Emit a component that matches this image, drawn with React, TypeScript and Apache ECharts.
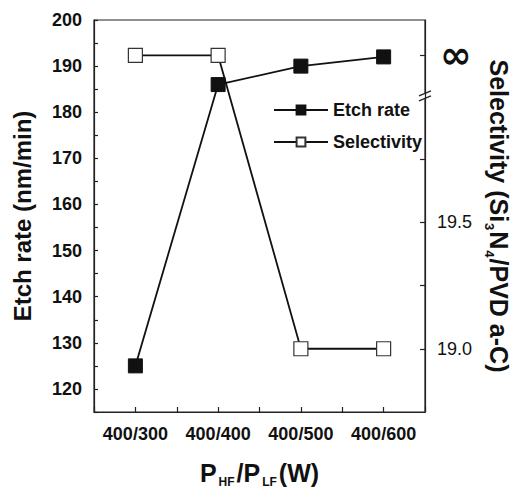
import React, { useEffect, useRef } from "react";
import * as echarts from "echarts";

const categories = ["400/300", "400/400", "400/500", "400/600"];
const etchRate = [125, 186, 190, 192];
// "∞" stands for infinite selectivity
const selectivity: (number | string)[] = ["∞", "∞", 19.0, 19.0];
const INF_POS = 20.16; // where the ∞ level sits on the right axis
const BREAK_AT = 20.0;
const leftTickLabels = [120, 130, 140, 150, 160, 170, 180, 190, 200];
const rightTickLabels = [19.0, 19.5];
const rightMinorTicks = [19.25, 19.75];

const FONT = "Liberation Sans, Arial, sans-serif";

export default function App() {
  const ref = useRef<HTMLDivElement>(null);
  useEffect(() => {
    if (!ref.current) return;
    const chart = echarts.init(ref.current, undefined, { renderer: "svg" });
    const selPlot = selectivity.map((v, i) => [i + 1, v === "∞" ? INF_POS : (v as number)]);
    const etchPlot = etchRate.map((v, i) => [i + 1, v]);
    const option: any = {
      animation: false,
      backgroundColor: "#fff",
      textStyle: { fontFamily: FONT, color: "#111" },
      grid: { left: 94, right: 82, top: 20, bottom: 69, show: true, borderColor: "#222", borderWidth: 1.2, backgroundColor: "transparent" },
      legend: {
        orient: "vertical",
        left: 268,
        top: 96,
        itemWidth: 54,
        itemHeight: 11,
        itemGap: 14,
        textStyle: { fontFamily: FONT, fontSize: 18, fontWeight: "bold", color: "#111" },
        data: ["Etch rate", "Selectivity"],
      },
      xAxis: {
        type: "value",
        min: 0.5,
        max: 4.5,
        interval: 0.5,
        splitLine: { show: false },
        axisLine: { lineStyle: { color: "#222", width: 1.2 } },
        axisTick: { inside: true, length: 5, lineStyle: { color: "#222", width: 1.2 } },
        axisLabel: {
          margin: 13,
          fontFamily: FONT,
          fontSize: 18,
          fontWeight: "bold",
          color: "#111",
          showMinLabel: true,
          showMaxLabel: true,
          formatter: (v: number) => (Number.isInteger(v) && v >= 1 && v <= categories.length ? categories[v - 1] : ""),
        },
        name: "P{sub|HF}/P{sub|LF}(W)",
        nameLocation: "middle",
        nameGap: 46,
        nameTextStyle: {
          fontFamily: FONT,
          fontSize: 25,
          fontWeight: "bold",
          color: "#111",
          rich: {
            sub: { fontFamily: FONT, fontSize: 12, fontWeight: "bold", color: "#111", verticalAlign: "bottom", padding: [18, 2, 0, 2] },
          },
        },
      },
      yAxis: [
        {
          type: "value",
          min: 115,
          max: 200,
          interval: 5,
          position: "left",
          splitLine: { show: false },
          axisLine: { show: true, lineStyle: { color: "#222", width: 1.2 } },
          axisTick: { inside: true, length: 4, lineStyle: { color: "#222", width: 1.2 } },
          axisLabel: {
            margin: 12,
            fontFamily: FONT,
            fontSize: 18,
            fontWeight: "bold",
            color: "#111",
            formatter: (v: number) => (leftTickLabels.includes(v) ? String(v) : ""),
          },
          name: "Etch rate (nm/min)",
          nameLocation: "middle",
          nameGap: 60,
          nameTextStyle: { fontFamily: FONT, fontSize: 24, fontWeight: "bold", color: "#111" },
        },
        {
          type: "value",
          min: 18.75,
          max: 20.3,
          position: "right",
          splitLine: { show: false },
          axisLine: { show: true, lineStyle: { color: "#222", width: 1.2 } },
          axisTick: {
            inside: true,
            length: 5,
            customValues: [...rightTickLabels, ...rightMinorTicks, INF_POS],
            lineStyle: { color: "#222", width: 1.2 },
          },
          axisLabel: {
            margin: 12,
            fontFamily: FONT,
            fontSize: 18,
            color: "#111",
            customValues: [...rightTickLabels, INF_POS],
            formatter: (v: number) => (Math.abs(v - INF_POS) < 1e-6 ? "{inf|∞}" : v.toFixed(1)),
            rich: { inf: { fontFamily: "DejaVu Sans", fontSize: 38, fontWeight: "bold", color: "#111", padding: [0, 0, 0, 3] } },
          },
          name: "Selectivity (Si{sub|3}N{sub|4}/PVD a-C)",
          nameLocation: "middle",
          nameRotate: -90,
          nameGap: 58,
          nameTextStyle: {
            fontFamily: FONT,
            fontSize: 25,
            fontWeight: "bold",
            color: "#111",
            rich: {
              sub: { fontFamily: FONT, fontSize: 13, fontWeight: "bold", color: "#111", verticalAlign: "bottom", padding: [18, 1, 0, 1] },
            },
          },
        },
      ],
      series: [
        {
          name: "Selectivity",
          type: "line",
          yAxisIndex: 1,
          data: selPlot,
          symbol: "rect",
          symbolSize: 14,
          lineStyle: { color: "#111", width: 1.8 },
          itemStyle: { color: "#fff", borderColor: "#333", borderWidth: 1.2 },
          z: 2,
        },
        {
          name: "Etch rate",
          type: "line",
          yAxisIndex: 0,
          data: etchPlot,
          symbol: "rect",
          symbolSize: 14,
          lineStyle: { color: "#111", width: 1.8 },
          itemStyle: { color: "#111", borderColor: "#111", borderWidth: 1 },
          z: 3,
        },
      ],
    };
    chart.setOption(option);
    // axis-break mark on the right axis
    const px = chart.convertToPixel({ yAxisIndex: 1 }, BREAK_AT) as number;
    const ax = chart.convertToPixel({ xAxisIndex: 0 }, 4.5) as number;
    chart.setOption({
      graphic: [
        {
          type: "group",
          x: ax,
          y: px,
          z: 100,
          children: [
            { type: "polygon", shape: { points: [[-6, 0], [6, -5], [6, 0], [-6, 5]] }, style: { fill: "#fff" } },
            { type: "line", shape: { x1: -6, y1: 0, x2: 6, y2: -5 }, style: { stroke: "#222", lineWidth: 1.2 } },
            { type: "line", shape: { x1: -6, y1: 5, x2: 6, y2: 0 }, style: { stroke: "#222", lineWidth: 1.2 } },
          ],
        },
      ],
    });
    return () => chart.dispose();
  }, []);
  return <div ref={ref} style={{ position: "fixed", left: 0, top: 0, width: 519, height: 493 }} />;
}
